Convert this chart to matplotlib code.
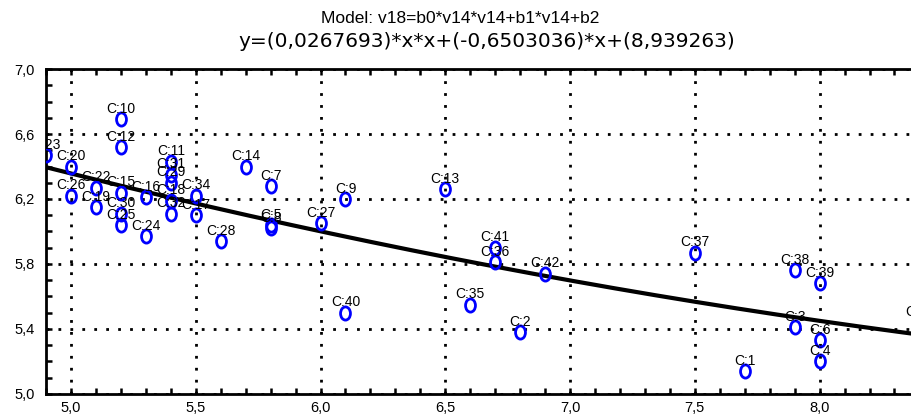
import numpy as np
import matplotlib.pyplot as plt
from matplotlib.path import Path
from matplotlib.transforms import Affine2D
from matplotlib.ticker import MultipleLocator, FuncFormatter

plt.rcParams['font.family'] = ['Liberation Sans', 'DejaVu Sans']

# cases
names = ['C:1', 'C:2', 'C:3', 'C:4', 'C:5', 'C:6', 'C:7', 'C:8', 'C:9', 'C:10',
         'C:11', 'C:12', 'C:13', 'C:14', 'C:15', 'C:16', 'C:17', 'C:18', 'C:19', 'C:20',
         'C:21', 'C:22', 'C:23', 'C:24', 'C:25', 'C:26', 'C:27', 'C:28', 'C:29', 'C:30',
         'C:31', 'C:32', 'C:34', 'C:35', 'C:36', 'C:37', 'C:38', 'C:39', 'C:40', 'C:41',
         'C:42']
v14 = [7.7, 6.8, 7.9, 8.0, 5.8, 8.0, 5.8, 5.8, 6.1, 5.2,
       5.4, 5.2, 6.5, 5.7, 5.2, 5.3, 5.5, 5.4, 5.1, 5.0,
       8.4, 5.1, 4.9, 5.3, 5.2, 5.0, 6.0, 5.6, 5.4, 5.2,
       5.4, 5.4, 5.5, 6.6, 6.7, 7.5, 7.9, 8.0, 6.1, 6.7,
       6.9]
v18 = [5.14, 5.38, 5.41, 5.20, 6.04, 5.33, 6.28, 6.02, 6.20, 6.69,
       6.43, 6.52, 6.26, 6.40, 6.24, 6.21, 6.10, 6.19, 6.15, 6.40,
       5.44, 6.27, 6.47, 5.97, 6.04, 6.22, 6.05, 5.94, 6.30, 6.11,
       6.35, 6.11, 6.22, 5.55, 5.81, 5.87, 5.76, 5.68, 5.50, 5.90,
       5.74]
y_ticks = [5.0, 5.4, 5.8, 6.2, 6.6, 7.0]

# fitted model from the header
b0, b1, b2 = 0.0267693, -0.6503036, 8.939263

fig = plt.figure(figsize=(9.12, 4.19), dpi=100)
ax = fig.add_axes([0.0505, 0.0597, 0.985, 0.7756])

xx = np.linspace(4.9, 8.5, 200)
ax.plot(xx, b0 * xx * xx + b1 * xx + b2, color='black', lw=3, zorder=3)

ellipse = Path.unit_circle().transformed(Affine2D().scale(0.75, 1.0))
ax.plot(v14, v18, linestyle='none', marker=ellipse, ms=9.5, mew=2,
        mec='#0000ff', mfc='none', zorder=4)
for n, x, y in zip(names, v14, v18):
    ax.annotate(n, (x, y), xytext=(0, 7.5), textcoords='offset points',
                ha='center', va='center', fontsize=10, color='black',
                clip_on=True, zorder=5)

ax.set_xlim(4.9, 8.5)
ax.set_ylim(5.0, 7.0)
ax.xaxis.set_major_locator(MultipleLocator(0.5))
ax.xaxis.set_minor_locator(MultipleLocator(0.1))
ax.set_yticks(y_ticks)
ax.yaxis.set_minor_locator(MultipleLocator(0.1))
fmt = FuncFormatter(lambda v, p: f'{v:.1f}'.replace('.', ','))
ax.xaxis.set_major_formatter(fmt)
ax.yaxis.set_major_formatter(fmt)
ax.tick_params(which='both', direction='in', top=True, right=True,
               length=4, width=1.8, labelsize=10.5)
ax.tick_params(axis='y', pad=8)
ax.tick_params(axis='x', pad=5)
ax.grid(True, which='major', color='black', lw=2, linestyle=(0, (1, 3.3)))
for s in ax.spines.values():
    s.set_linewidth(2)

fig.text(0.505, 0.957, 'Model: v18=b0*v14*v14+b1*v14+b2', ha='center', va='center',
         fontsize=12.5)
fig.text(0.534, 0.902, 'y=(0,0267693)*x*x+(-0,6503036)*x+(8,939263)', ha='center',
         va='center', fontsize=14.5, family='DejaVu Sans')

fig.savefig('out.png', dpi=100)
